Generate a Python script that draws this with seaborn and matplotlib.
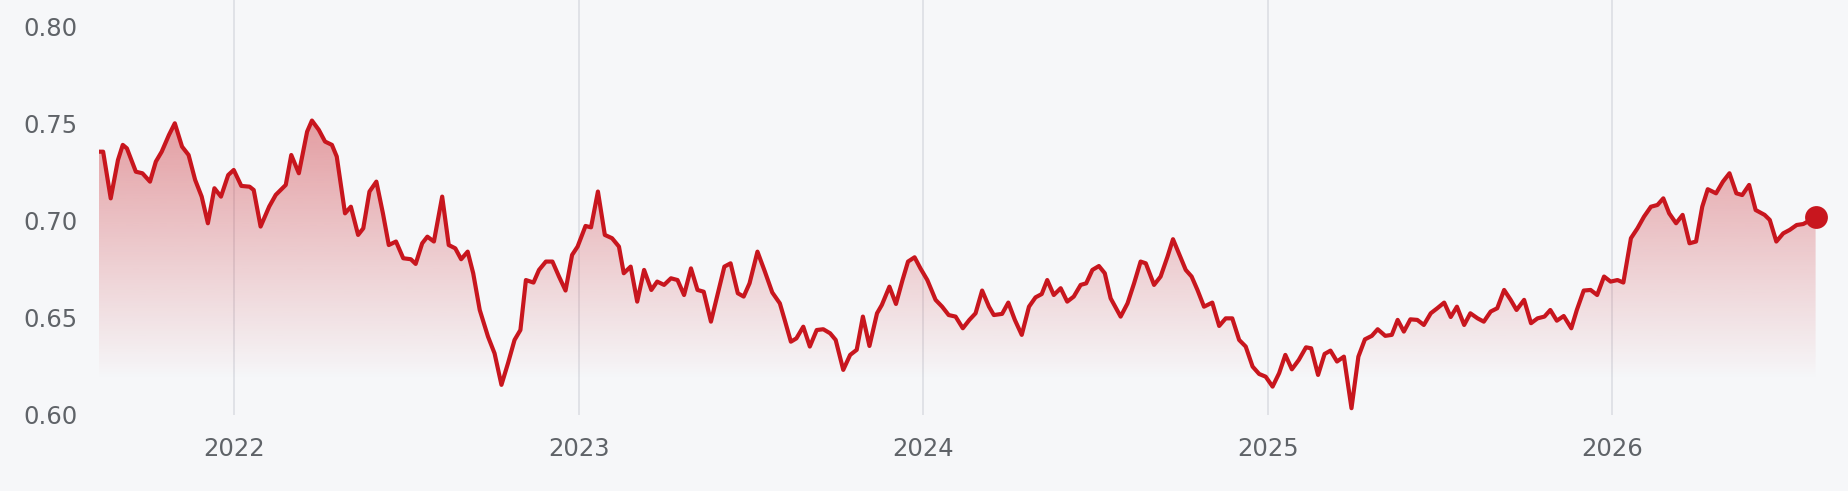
# EXCHANGE RATE LINE CHART
# ----------------------------------------------------------------------------------------------------------------

import numpy as np
import pandas as pd
import matplotlib
matplotlib.use("Agg")
import matplotlib.pyplot as plt
from matplotlib.colors import to_rgb
import seaborn as sns


# DATA ------------------

# time as decimal years
years = [
    2021.608, 2021.620, 2021.642, 2021.663, 2021.677, 2021.689, 2021.715, 2021.734, 2021.756, 2021.773,
    2021.790, 2021.811, 2021.828, 2021.849, 2021.868, 2021.887, 2021.906, 2021.924, 2021.943, 2021.962,
    2021.983, 2021.999, 2022.021, 2022.045, 2022.057, 2022.077, 2022.102, 2022.121, 2022.150, 2022.166,
    2022.188, 2022.212, 2022.226, 2022.246, 2022.264, 2022.284, 2022.298, 2022.322, 2022.339, 2022.360,
    2022.375, 2022.393, 2022.413, 2022.432, 2022.449, 2022.470, 2022.491, 2022.513, 2022.527, 2022.546,
    2022.561, 2022.580, 2022.604, 2022.623, 2022.642, 2022.659, 2022.678, 2022.694, 2022.713, 2022.737,
    2022.756, 2022.776, 2022.795, 2022.814, 2022.831, 2022.847, 2022.869, 2022.885, 2022.905, 2022.924,
    2022.943, 2022.962, 2022.981, 2022.997, 2023.020, 2023.036, 2023.056, 2023.076, 2023.097, 2023.117,
    2023.131, 2023.151, 2023.170, 2023.190, 2023.211, 2023.228, 2023.248, 2023.268, 2023.287, 2023.306,
    2023.326, 2023.345, 2023.363, 2023.384, 2023.404, 2023.423, 2023.441, 2023.462, 2023.479, 2023.496,
    2023.519, 2023.540, 2023.562, 2023.584, 2023.598, 2023.616, 2023.632, 2023.652, 2023.671, 2023.691,
    2023.710, 2023.730, 2023.746, 2023.768, 2023.788, 2023.807, 2023.825, 2023.844, 2023.866, 2023.880,
    2023.902, 2023.921, 2023.940, 2023.956, 2023.975, 2023.992, 2024.012, 2024.036, 2024.055, 2024.074,
    2024.094, 2024.115, 2024.134, 2024.152, 2024.171, 2024.191, 2024.205, 2024.229, 2024.247, 2024.266,
    2024.286, 2024.307, 2024.326, 2024.344, 2024.360, 2024.379, 2024.399, 2024.418, 2024.437, 2024.457,
    2024.473, 2024.491, 2024.510, 2024.527, 2024.544, 2024.573, 2024.593, 2024.612, 2024.631, 2024.646,
    2024.670, 2024.689, 2024.709, 2024.725, 2024.742, 2024.762, 2024.779, 2024.796, 2024.815, 2024.839,
    2024.859, 2024.878, 2024.897, 2024.917, 2024.936, 2024.956, 2024.975, 2024.994, 2025.014, 2025.033,
    2025.051, 2025.070, 2025.090, 2025.111, 2025.126, 2025.146, 2025.165, 2025.182, 2025.201, 2025.221,
    2025.243, 2025.263, 2025.282, 2025.302, 2025.319, 2025.341, 2025.360, 2025.377, 2025.395, 2025.414,
    2025.434, 2025.453, 2025.473, 2025.492, 2025.512, 2025.531, 2025.549, 2025.570, 2025.588, 2025.609,
    2025.627, 2025.647, 2025.666, 2025.686, 2025.705, 2025.722, 2025.744, 2025.764, 2025.783, 2025.803,
    2025.820, 2025.839, 2025.859, 2025.881, 2025.897, 2025.917, 2025.937, 2025.956, 2025.976, 2025.995,
    2026.015, 2026.032, 2026.054, 2026.073, 2026.092, 2026.112, 2026.131, 2026.148, 2026.165, 2026.185,
    2026.204, 2026.224, 2026.243, 2026.261, 2026.277, 2026.301, 2026.321, 2026.340, 2026.360, 2026.377,
    2026.397, 2026.416, 2026.442, 2026.457, 2026.476, 2026.496, 2026.515, 2026.535, 2026.554, 2026.573,
    2026.590,
]

values = [
    0.7354, 0.7354, 0.7114, 0.7311, 0.7389, 0.7371, 0.7251, 0.7243, 0.7200, 0.7303,
    0.7354, 0.7440, 0.7500, 0.7380, 0.7337, 0.7209, 0.7123, 0.6986, 0.7166, 0.7123,
    0.7234, 0.7260, 0.7178, 0.7174, 0.7157, 0.6969, 0.7072, 0.7132, 0.7183, 0.7337,
    0.7243, 0.7457, 0.7514, 0.7466, 0.7406, 0.7389, 0.7329, 0.7037, 0.7071, 0.6926,
    0.6960, 0.7149, 0.7200, 0.7037, 0.6874, 0.6892, 0.6806, 0.6801, 0.6777, 0.6883,
    0.6917, 0.6892, 0.7123, 0.6874, 0.6857, 0.6801, 0.6840, 0.6729, 0.6540, 0.6403,
    0.6317, 0.6155, 0.6266, 0.6386, 0.6437, 0.6694, 0.6681, 0.6746, 0.6789, 0.6789,
    0.6712, 0.6640, 0.6823, 0.6866, 0.6972, 0.6965, 0.7149, 0.6926, 0.6909, 0.6866,
    0.6729, 0.6763, 0.6583, 0.6746, 0.6643, 0.6686, 0.6669, 0.6703, 0.6694, 0.6617,
    0.6754, 0.6643, 0.6634, 0.6480, 0.6626, 0.6763, 0.6780, 0.6626, 0.6609, 0.6677,
    0.6840, 0.6740, 0.6630, 0.6574, 0.6489, 0.6377, 0.6394, 0.6454, 0.6352, 0.6437,
    0.6441, 0.6420, 0.6386, 0.6232, 0.6309, 0.6335, 0.6506, 0.6355, 0.6523, 0.6566,
    0.6660, 0.6571, 0.6694, 0.6789, 0.6811, 0.6754, 0.6694, 0.6592, 0.6557, 0.6514,
    0.6506, 0.6446, 0.6489, 0.6523, 0.6640, 0.6557, 0.6514, 0.6520, 0.6578, 0.6489,
    0.6412, 0.6557, 0.6605, 0.6622, 0.6694, 0.6617, 0.6652, 0.6583, 0.6609, 0.6669,
    0.6677, 0.6746, 0.6766, 0.6729, 0.6600, 0.6506, 0.6574, 0.6677, 0.6789, 0.6780,
    0.6669, 0.6712, 0.6814, 0.6904, 0.6832, 0.6746, 0.6712, 0.6643, 0.6557, 0.6578,
    0.6458, 0.6497, 0.6497, 0.6386, 0.6352, 0.6249, 0.6211, 0.6197, 0.6146, 0.6215,
    0.6309, 0.6235, 0.6283, 0.6348, 0.6343, 0.6206, 0.6314, 0.6331, 0.6275, 0.6300,
    0.6035, 0.6300, 0.6389, 0.6407, 0.6441, 0.6407, 0.6412, 0.6489, 0.6429, 0.6492,
    0.6489, 0.6463, 0.6523, 0.6549, 0.6578, 0.6504, 0.6557, 0.6463, 0.6523, 0.6497,
    0.6480, 0.6532, 0.6549, 0.6643, 0.6592, 0.6540, 0.6592, 0.6472, 0.6497, 0.6506,
    0.6540, 0.6485, 0.6509, 0.6446, 0.6540, 0.6640, 0.6643, 0.6617, 0.6712, 0.6686,
    0.6694, 0.6681, 0.6909, 0.6960, 0.7020, 0.7071, 0.7080, 0.7114, 0.7037, 0.6986,
    0.7029, 0.6883, 0.6892, 0.7071, 0.7161, 0.7140, 0.7200, 0.7243, 0.7140, 0.7131,
    0.7183, 0.7054, 0.7029, 0.7003, 0.6892, 0.6934, 0.6952, 0.6977, 0.6982, 0.7000,
    0.7017,
]

year_ticks = [2022, 2023, 2024, 2025, 2026]
value_ticks = [0.60, 0.65, 0.70, 0.75, 0.80]


# STYLE -----------------

BG = "#f6f7f9"
RED = "#c8161e"
GRID = "#e0e2e7"
TEXT = "#5f6368"

sns.set_theme(style="white")
plt.rcParams["font.family"] = ["DejaVu Sans"]


# EXECUTION -------------

df = pd.DataFrame({"year": years, "value": values})

fig = plt.figure(figsize=(18.48, 4.91), dpi=100, facecolor=BG)
ax = fig.add_axes([99 / 1848, 76 / 491, 1749 / 1848, 415 / 491])
ax.set_facecolor(BG)

x_lo, x_hi = 2021.608, 2026.684
y_lo, y_hi = 0.60, 0.8134
ax.set_xlim(x_lo, x_hi)
ax.set_ylim(y_lo, y_hi)

# Gradient area under the line, clipped by the fill polygon
base = 0.618
area = ax.fill_between(df["year"], df["value"], base, color="none", linewidth=0)
yy = np.linspace(y_lo, y_hi, 400)
alpha = np.clip((yy - base) / (0.752 - base), 0, 1) * 0.40
rgba = np.zeros((len(yy), 1, 4))
rgba[..., :3] = to_rgb(RED)
rgba[:, 0, 3] = alpha
grad = ax.imshow(rgba, extent=[x_lo, x_hi, y_lo, y_hi], origin="lower",
                 aspect="auto", interpolation="bilinear", zorder=1)
grad.set_clip_path(area.get_paths()[0], transform=ax.transData)

# Line and the last-value dot
sns.lineplot(data=df, x="year", y="value", color=RED, linewidth=3.0, ax=ax, zorder=3,
             solid_joinstyle="round", solid_capstyle="round")
ax.scatter([years[-1]], [values[-1]], s=270, color=RED, zorder=4, clip_on=False, linewidths=0)

# Axes details
ax.set_xticks(year_ticks)
ax.set_xticklabels([str(y) for y in year_ticks])
ax.set_yticks(value_ticks)
ax.set_yticklabels([f"{v:.2f}" for v in value_ticks])
ax.set_xlabel("")
ax.set_ylabel("")
ax.grid(axis="x", color=GRID, linewidth=1.4)
ax.grid(axis="y", visible=False)
ax.set_axisbelow(True)
ax.tick_params(axis="both", length=0, labelsize=17.5, labelcolor=TEXT)
ax.tick_params(axis="y", pad=15.5)
ax.tick_params(axis="x", pad=16)
sns.despine(ax=ax, left=True, bottom=True)

fig.savefig("out.png", dpi=100, facecolor=BG)
